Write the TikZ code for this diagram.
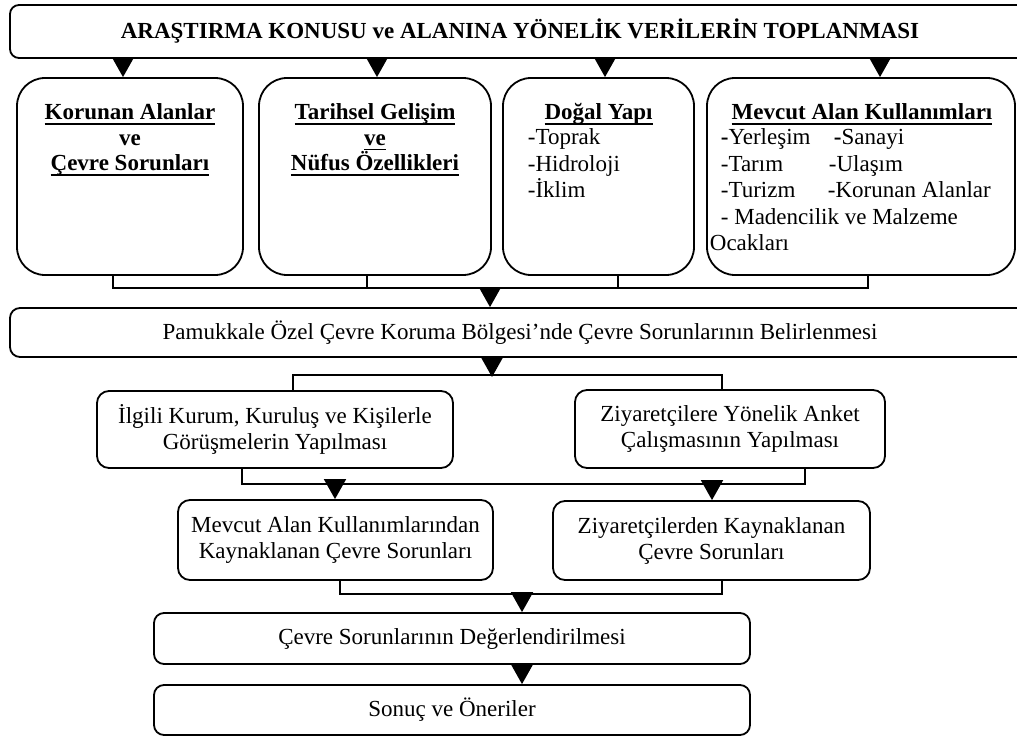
\documentclass[tikz,border=0pt]{standalone}
\usepackage{fontspec}
\setmainfont{Liberation Serif}
\usetikzlibrary{arrows.meta}
\newlength\ulwidth
\newcommand\hul[1]{\settowidth{\ulwidth}{#1}\rlap{\rule[-5pt]{\ulwidth}{1.7pt}}#1}
\begin{document}
\begin{tikzpicture}[x=1pt,y=-1pt,line width=1.8pt,
  box/.style={draw,inner sep=0pt,align=center,font=\fontsize{23}{26}\selectfont},
  topbox/.style={box,rounded corners=9pt},
  colbox/.style={box,rounded corners=28pt},
  midbox/.style={box,rounded corners=12pt},
  flatbox/.style={box,rounded corners=10pt},
  head/.style={inner sep=0pt,anchor=north,align=center,font=\fontsize{23}{25.5}\selectfont\bfseries},
  lst/.style={inner sep=0pt,anchor=north west,align=left,font=\fontsize{23}{26.5}\selectfont},
  tip/.style={-{Triangle[length=20pt,width=22pt]}}]
\useasboundingbox (0,0) rectangle (1017,736);
% boxes
\node[topbox,minimum width=1020pt,minimum height=53pt,font=\fontsize{23}{26}\selectfont\bfseries] (top) at (520,31.5) {ARAŞTIRMA KONUSU ve ALANINA YÖNELİK VERİLERİN TOPLANMASI};
\node[colbox,minimum width=226pt,minimum height=197pt] (b1) at (130,176.5) {};
\node[colbox,minimum width=232pt,minimum height=197pt] (b2) at (375,176.5) {};
\node[colbox,minimum width=191pt,minimum height=197pt] (b3) at (598.5,176.5) {};
\node[colbox,minimum width=308pt,minimum height=197pt] (b4) at (861,176.5) {};
% texts in column boxes
\node[head] (b1t) at (130,101.2) {\strut\hul{Korunan Alanlar}\\ve\\\hul{Çevre Sorunları}};
\node[head] (b2t) at (375,101.2) {\strut\hul{Tarihsel Gelişim}\\\hul{ve}\\\hul{Nüfus Özellikleri}};
\node[head] (b3h) at (598.5,101.2) {\strut\hul{Doğal Yapı}};
\node[lst] (b3l) at (527,125.5) {\strut-Toprak\\-Hidroloji\\-İklim};
\node[head] (b4h) at (862,101.2) {\strut\hul{Mevcut Alan Kullanımları}};
\node[lst] (b4l) at (720,125.5) {\strut\makebox[113pt][l]{\textbf{-}Yerleşim}\textbf{-}Sanayi\\
  \makebox[108pt][l]{-Tarım}-Ulaşım\\
  \makebox[107pt][l]{-Turizm}-Korunan Alanlar\\
  - Madencilik ve Malzeme\\
  \hspace*{-11pt}Ocakları};
% lower boxes
\node[flatbox,minimum width=1020pt,minimum height=49pt] (pam) at (520,332.5) {Pamukkale Özel Çevre Koruma Bölgesi’nde Çevre Sorunlarının Belirlenmesi};
\node[midbox,minimum width=356pt,minimum height=77pt] (ilg) at (275,429.5) {İlgili Kurum, Kuruluş ve Kişilerle\\Görüşmelerin Yapılması};
\node[midbox,minimum width=310pt,minimum height=78pt] (ziy) at (730,429) {Ziyaretçilere Yönelik Anket\\Çalışmasının Yapılması};
\node[midbox,minimum width=315pt,minimum height=80pt] (mev) at (335.5,540) {Mevcut Alan Kullanımlarından\\Kaynaklanan Çevre Sorunları};
\node[midbox,minimum width=317pt,minimum height=79pt] (ziy2) at (711.5,540.5) {Ziyaretçilerden Kaynaklanan\\Çevre Sorunları};
\node[flatbox,minimum width=596pt,minimum height=51pt] (deg) at (452,638.5) {Çevre Sorunlarının Değerlendirilmesi};
\node[flatbox,minimum width=596pt,minimum height=50pt] (son) at (452,710) {Sonuç ve Öneriler};
% junction points
\coordinate (j1) at (490,287);
\coordinate (j2) at (492,377);
% arrows from top box
\draw[tip] (top.south -| 123,0) -- (b1.north -| 123,0);
\draw[tip] (top.south -| 377,0) -- (b2.north -| 377,0);
\draw[tip] (top.south -| 605,0) -- (b3.north -| 605,0);
\draw[tip] (top.south -| 880,0) -- (b4.north -| 880,0);
% bracket below columns
\draw (b1.south -| 113,0) -- ++(0,12) -| (b4.south -| 868,0);
\draw (b2.south -| 367,0) -- ++(0,12);
\draw (b3.south -| 618,0) -- ++(0,12);
\draw[tip] (j1) -- (pam.north -| j1);
% pam to two boxes
\draw[tip] (pam.south -| j2) -- (j2);
\draw (ilg.north -| 293,0) -- (293,375) -| (ziy.north -| 722,0);
% two boxes to two problem boxes
\draw (ilg.south -| 242,0) -- ++(0,15) -| (ziy.south -| 805,0);
\draw[tip] (335,483) -- (mev.north -| 335,0);
\draw[tip] (712,483) -- (ziy2.north -| 712,0);
% to evaluation
\draw (mev.south -| 340,0) -- ++(0,13) -| (ziy2.south -| 722,0);
\draw[tip] (522,593) -- (deg.north -| 522,0);
\draw[tip] (deg.south -| 522,0) -- (son.north -| 522,0);
\end{tikzpicture}
\end{document}
